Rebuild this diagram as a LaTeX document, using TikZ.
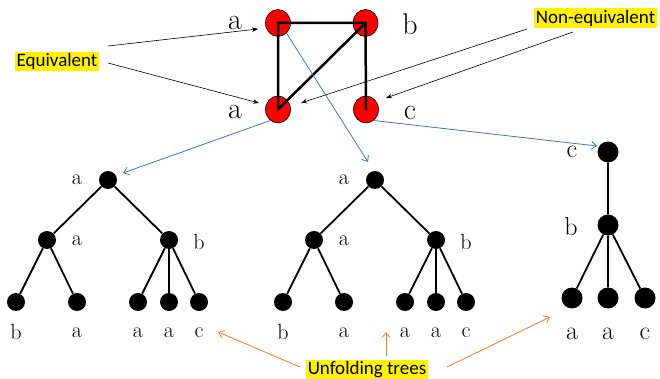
\documentclass[tikz,border=0pt]{standalone}
\usepackage{fontspec}
\newfontfamily\calfont{Carlito}
\usetikzlibrary{arrows.meta,shapes.geometric}
\definecolor{lblue}{RGB}{68,114,196}
\definecolor{lorange}{RGB}{237,125,49}
\tikzset{
  rednode/.style={ellipse,draw=black,line width=0.6pt,fill=red,minimum width=25pt,minimum height=27pt,inner sep=0pt},
  gedge/.style={line width=2.5pt,line cap=round},
  biglbl/.style={inner sep=0pt,font=\fontsize{30}{32}\selectfont},
  dot/.style={circle,fill=black,minimum size=18pt,inner sep=0pt},
  bigdot/.style={circle,fill=black,minimum size=21pt,inner sep=0pt},
  tlbl/.style={inner sep=0pt,font=\fontsize{22}{24}\selectfont},
  tlblb/.style={inner sep=0pt,font=\fontsize{26}{28}\selectfont},
  tedge/.style={line width=1.8pt},
  hl/.style={fill=yellow,inner sep=1.5pt,font=\calfont\fontsize{19}{21}\selectfont},
  blk/.style={line width=0.6pt,-{Stealth[length=6pt,width=4.5pt]}},
  blu/.style={line width=0.8pt,draw=lblue,-{Straight Barb[length=5pt,width=8pt]}},
  org/.style={line width=0.8pt,draw=lorange,-{Straight Barb[length=5pt,width=8pt]}},
}
\begin{document}
\begin{tikzpicture}[x=1pt,y=-1pt]
\useasboundingbox (0,0) rectangle (660,379);
% top graph
\node[rednode] (tl) at (278,23) {};
\node[rednode] (tr) at (365.5,23) {};
\node[rednode] (bl) at (278,109.5) {};
\node[rednode] (br) at (366,109.5) {};
\draw[gedge] (bl.center) -- (tl.center) -- (tr.center) -- (br.center);
\draw[gedge] (bl.center) -- (tr.center);
\node[biglbl] (ltl) at (235,23) {a};
\node[biglbl] (ltr) at (410,24) {b};
\node[biglbl] (lbl) at (235,112) {a};
\node[biglbl] (lbr) at (410,113) {c};
% highlighted labels
\node[hl] (eq) at (57,61.5) {Equivalent};
\node[hl] (neq) at (595.5,18) {Non-equivalent};
\node[hl] (unf) at (367,369.5) {Unfolding trees};
\coordinate (eq1) at (108,46);
\coordinate (eq2) at (108,63);
\coordinate (eqe1) at (258,29);
\coordinate (eqe2) at (259,103);
\draw[blk] (eq1) -- (eqe1);
\draw[blk] (eq2) -- (eqe2);
\coordinate (ne1) at (527,29);
\coordinate (ne2) at (573,32);
\coordinate (nee1) at (301,103);
\coordinate (nee2) at (386,98);
\draw[blk] (ne1) -- (nee1);
\draw[blk] (ne2) -- (nee2);
% left tree
\node[dot] (a0) at (108,180) {};
\node[dot] (a1) at (47,240) {};
\node[dot] (a2) at (169,240) {};
\node[dot] (a11) at (16,302) {};
\node[dot] (a12) at (77,302) {};
\node[dot] (a21) at (138,302) {};
\node[dot] (a22) at (169,302) {};
\node[dot] (a23) at (199,302) {};
\draw[tedge] (a0) -- (a1) (a0) -- (a2) (a1) -- (a11) (a1) -- (a12) (a2) -- (a21) (a2) -- (a22) (a2) -- (a23);
\node[tlbl] at (77,180) {a};
\node[tlbl] at (77,241) {a};
\node[tlbl] at (199,242) {b};
\node[tlbl] at (16,332) {b};
\node[tlbl] at (77,333) {a};
\node[tlbl] at (138,333) {a};
\node[tlbl] at (169,333) {a};
\node[tlbl] at (199,333) {c};
% middle tree
\begin{scope}[xshift=267pt]
\node[dot] (b0) at (108,180) {};
\node[dot] (b1) at (47,240) {};
\node[dot] (b2) at (169,240) {};
\node[dot] (b11) at (16,302) {};
\node[dot] (b12) at (77,302) {};
\node[dot] (b21) at (138,302) {};
\node[dot] (b22) at (169,302) {};
\node[dot] (b23) at (199,302) {};
\draw[tedge] (b0) -- (b1) (b0) -- (b2) (b1) -- (b11) (b1) -- (b12) (b2) -- (b21) (b2) -- (b22) (b2) -- (b23);
\node[tlbl] at (77,180) {a};
\node[tlbl] at (77,241) {a};
\node[tlbl] at (199,242) {b};
\node[tlbl] at (16,332) {b};
\node[tlbl] at (77,333) {a};
\node[tlbl] at (138,333) {a};
\node[tlbl] at (169,333) {a};
\node[tlbl] at (199,333) {c};
\end{scope}
% right tree
\node[bigdot] (c0) at (608,152) {};
\node[bigdot] (c1) at (608,225) {};
\node[bigdot] (c11) at (572,298) {};
\node[bigdot] (c12) at (608,298) {};
\node[bigdot] (c13) at (645,298) {};
\draw[tedge] (c0) -- (c1) (c1) -- (c11) (c1) -- (c12) (c1) -- (c13);
\node[tlblb] at (572,152) {c};
\node[tlblb] at (571,227) {b};
\node[tlblb] at (572,334) {a};
\node[tlblb] at (608,334) {a};
\node[tlblb] at (645,334) {c};
% blue arrows
\coordinate (bb1) at (123,173);
\coordinate (bb2) at (368,162);
\coordinate (bb3) at (597,146);
\draw[blu] (bl.-125) -- (bb1);
\draw[blu] (tl.-50) -- (bb2);
\draw[blu] (br.-55) -- (bb3);
% orange arrows
\coordinate (o1s) at (300,367);
\coordinate (o1e) at (218,332);
\coordinate (o2s) at (386,356);
\coordinate (o2e) at (386,332);
\coordinate (o3s) at (447,367);
\coordinate (o3e) at (550,317);
\draw[org] (o1s) -- (o1e);
\draw[org] (o2s) -- (o2e);
\draw[org] (o3s) -- (o3e);
\end{tikzpicture}
\end{document}
